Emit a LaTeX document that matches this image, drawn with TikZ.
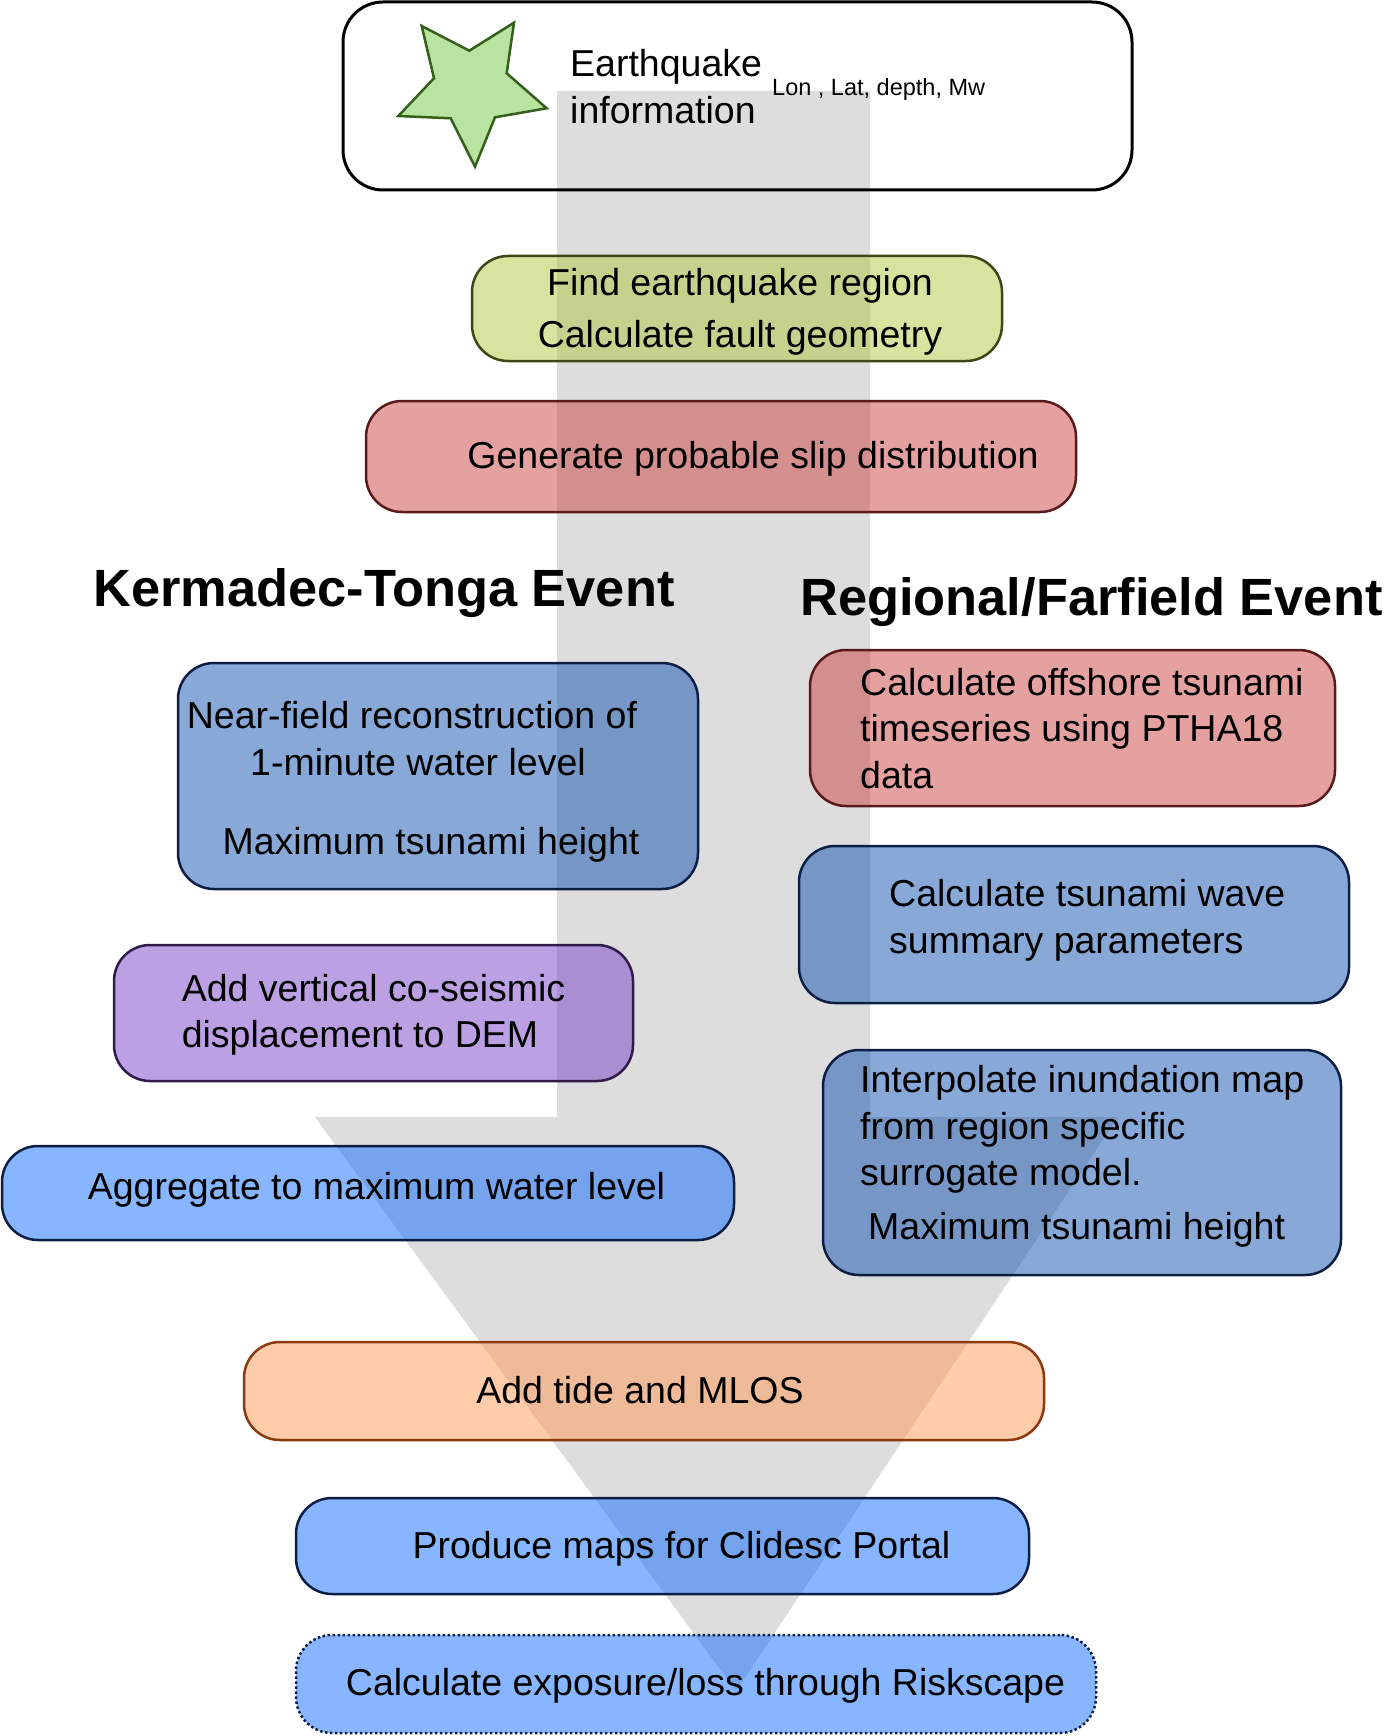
\documentclass[tikz,border=0pt]{standalone}
\usepackage{fontspec}
\setmainfont{Liberation Sans}

\definecolor{arrowgray}{RGB}{221,221,221}
\definecolor{leaf}{RGB}{175,201,65}
\definecolor{leafline}{RGB}{60,72,22}
\definecolor{rose}{RGB}{203,65,65}
\definecolor{roseline}{RGB}{90,26,26}
\definecolor{steel}{RGB}{17,81,177}
\definecolor{sky}{RGB}{15,107,255}
\definecolor{navy}{RGB}{12,30,68}
\definecolor{lilac}{RGB}{119,65,199}
\definecolor{lilacline}{RGB}{47,28,74}
\definecolor{peach}{RGB}{255,153,85}
\definecolor{peachline}{RGB}{138,58,14}
\definecolor{starfill}{RGB}{184,227,160}
\definecolor{starline}{RGB}{53,96,28}

\begin{document}
\begin{tikzpicture}[
  x=1pt,y=-1pt,
  font=\fontsize{37.5}{46.5}\selectfont,
  block/.style={draw=navy,line width=2.5pt,rounded corners=36pt,inner sep=0pt,fill opacity=0.5},
  txt/.style={inner sep=0pt,align=left},
  head/.style={inner sep=0pt,anchor=west,font=\fontsize{52.4}{60}\selectfont\bfseries}
]
\useasboundingbox (0,0) rectangle (1383,1736);

\fill[arrowgray] (557,91) -- (870,91) -- (870,1117) -- (1118,1117) -- (736,1691) -- (315,1117) -- (557,1117) -- cycle;

\node[block,draw=black,line width=3pt,rounded corners=40pt,minimum width=789pt,minimum height=188pt] (eqinfo) at (737.5,96) {};
\draw[line width=2.5pt,draw=starline,fill=starfill] (421.7,26) -- (469.3,50.7) -- (514,22.7) -- (506.7,73.3) -- (546.7,108.3)
  -- (495,117.3) -- (475,166.7) -- (450.7,118.3) -- (398.3,116) -- (434,78.3) -- cycle;
\node[txt,anchor=west] (eqtext) at (570,86.5) {Earthquake\\information};
\node[txt,anchor=west,font=\fontsize{23.5}{28}\selectfont] (eqvars) at (772,89.5) {Lon , Lat, depth, Mw};

\node[block,fill=leaf,draw=leafline,minimum width=530pt,minimum height=105pt] (region) at (737,308.5) {};
\node[txt,align=center] (region-t) at (740,312) {Find earthquake region\\[5.5pt]Calculate fault geometry};
\node[block,fill=rose,draw=roseline,minimum width=710pt,minimum height=111pt] (slip) at (721,456.5) {};
\node[txt] (slip-t) at (753,459) {Generate probable slip distribution};

\node[head] (kt) at (93,593) {Kermadec-Tonga Event};
\node[head] (far) at (800,602) {Regional/Farfield Event};

\node[block,fill=steel,minimum width=520pt,minimum height=226pt] (nearfield) at (438,776) {};
\node[txt,align=center] (nearfield-t) at (418,782) {Near-field reconstruction of\hspace*{12pt}\\1-minute water level\\[32.5pt]\hspace*{26pt}Maximum tsunami height};
\node[block,fill=lilac,draw=lilacline,minimum width=519pt,minimum height=136pt] (coseis) at (373.5,1013) {};
\node[txt,anchor=west] (coseis-t) at (181.6,1015) {Add vertical co-seismic\\displacement to DEM};
\node[block,fill=sky,minimum width=732pt,minimum height=94pt] (aggr) at (368,1193) {};
\node[txt] (aggr-t) at (376.5,1190) {Aggregate to maximum water level};

\node[block,fill=rose,draw=roseline,minimum width=525pt,minimum height=156pt] (offshore) at (1072.5,728) {};
\node[txt,anchor=west] (offshore-t) at (860,728.5) {Calculate offshore tsunami\\timeseries using PTHA18\\data};
\node[block,fill=steel,minimum width=550pt,minimum height=157pt] (summary) at (1074,924.5) {};
\node[txt,anchor=west] (summary-t) at (889,920.5) {Calculate tsunami wave\\summary parameters};
\node[block,fill=steel,minimum width=518pt,minimum height=225pt] (interp) at (1082,1162.5) {};
\node[txt,anchor=west] (interp-t) at (860,1156.2) {Interpolate inundation map\\from region specific\\surrogate model.\\[6.7pt]\hspace*{8pt}Maximum tsunami height};

\node[block,fill=peach,draw=peachline,minimum width=800pt,minimum height=98pt] (tide) at (644,1391) {};
\node[txt] (tide-t) at (640,1390) {Add tide and MLOS};
\node[block,fill=sky,minimum width=733pt,minimum height=96pt] (maps) at (662.5,1546) {};
\node[txt] (maps-t) at (681.5,1548.5) {Produce maps for Clidesc Portal};
\node[block,fill=sky,dash pattern=on 2.5pt off 2.5pt,minimum width=800pt,minimum height=98pt] (risk) at (696,1684) {};
\node[txt] (risk-t) at (705.5,1685.5) {Calculate exposure/loss through Riskscape};
\end{tikzpicture}
\end{document}
